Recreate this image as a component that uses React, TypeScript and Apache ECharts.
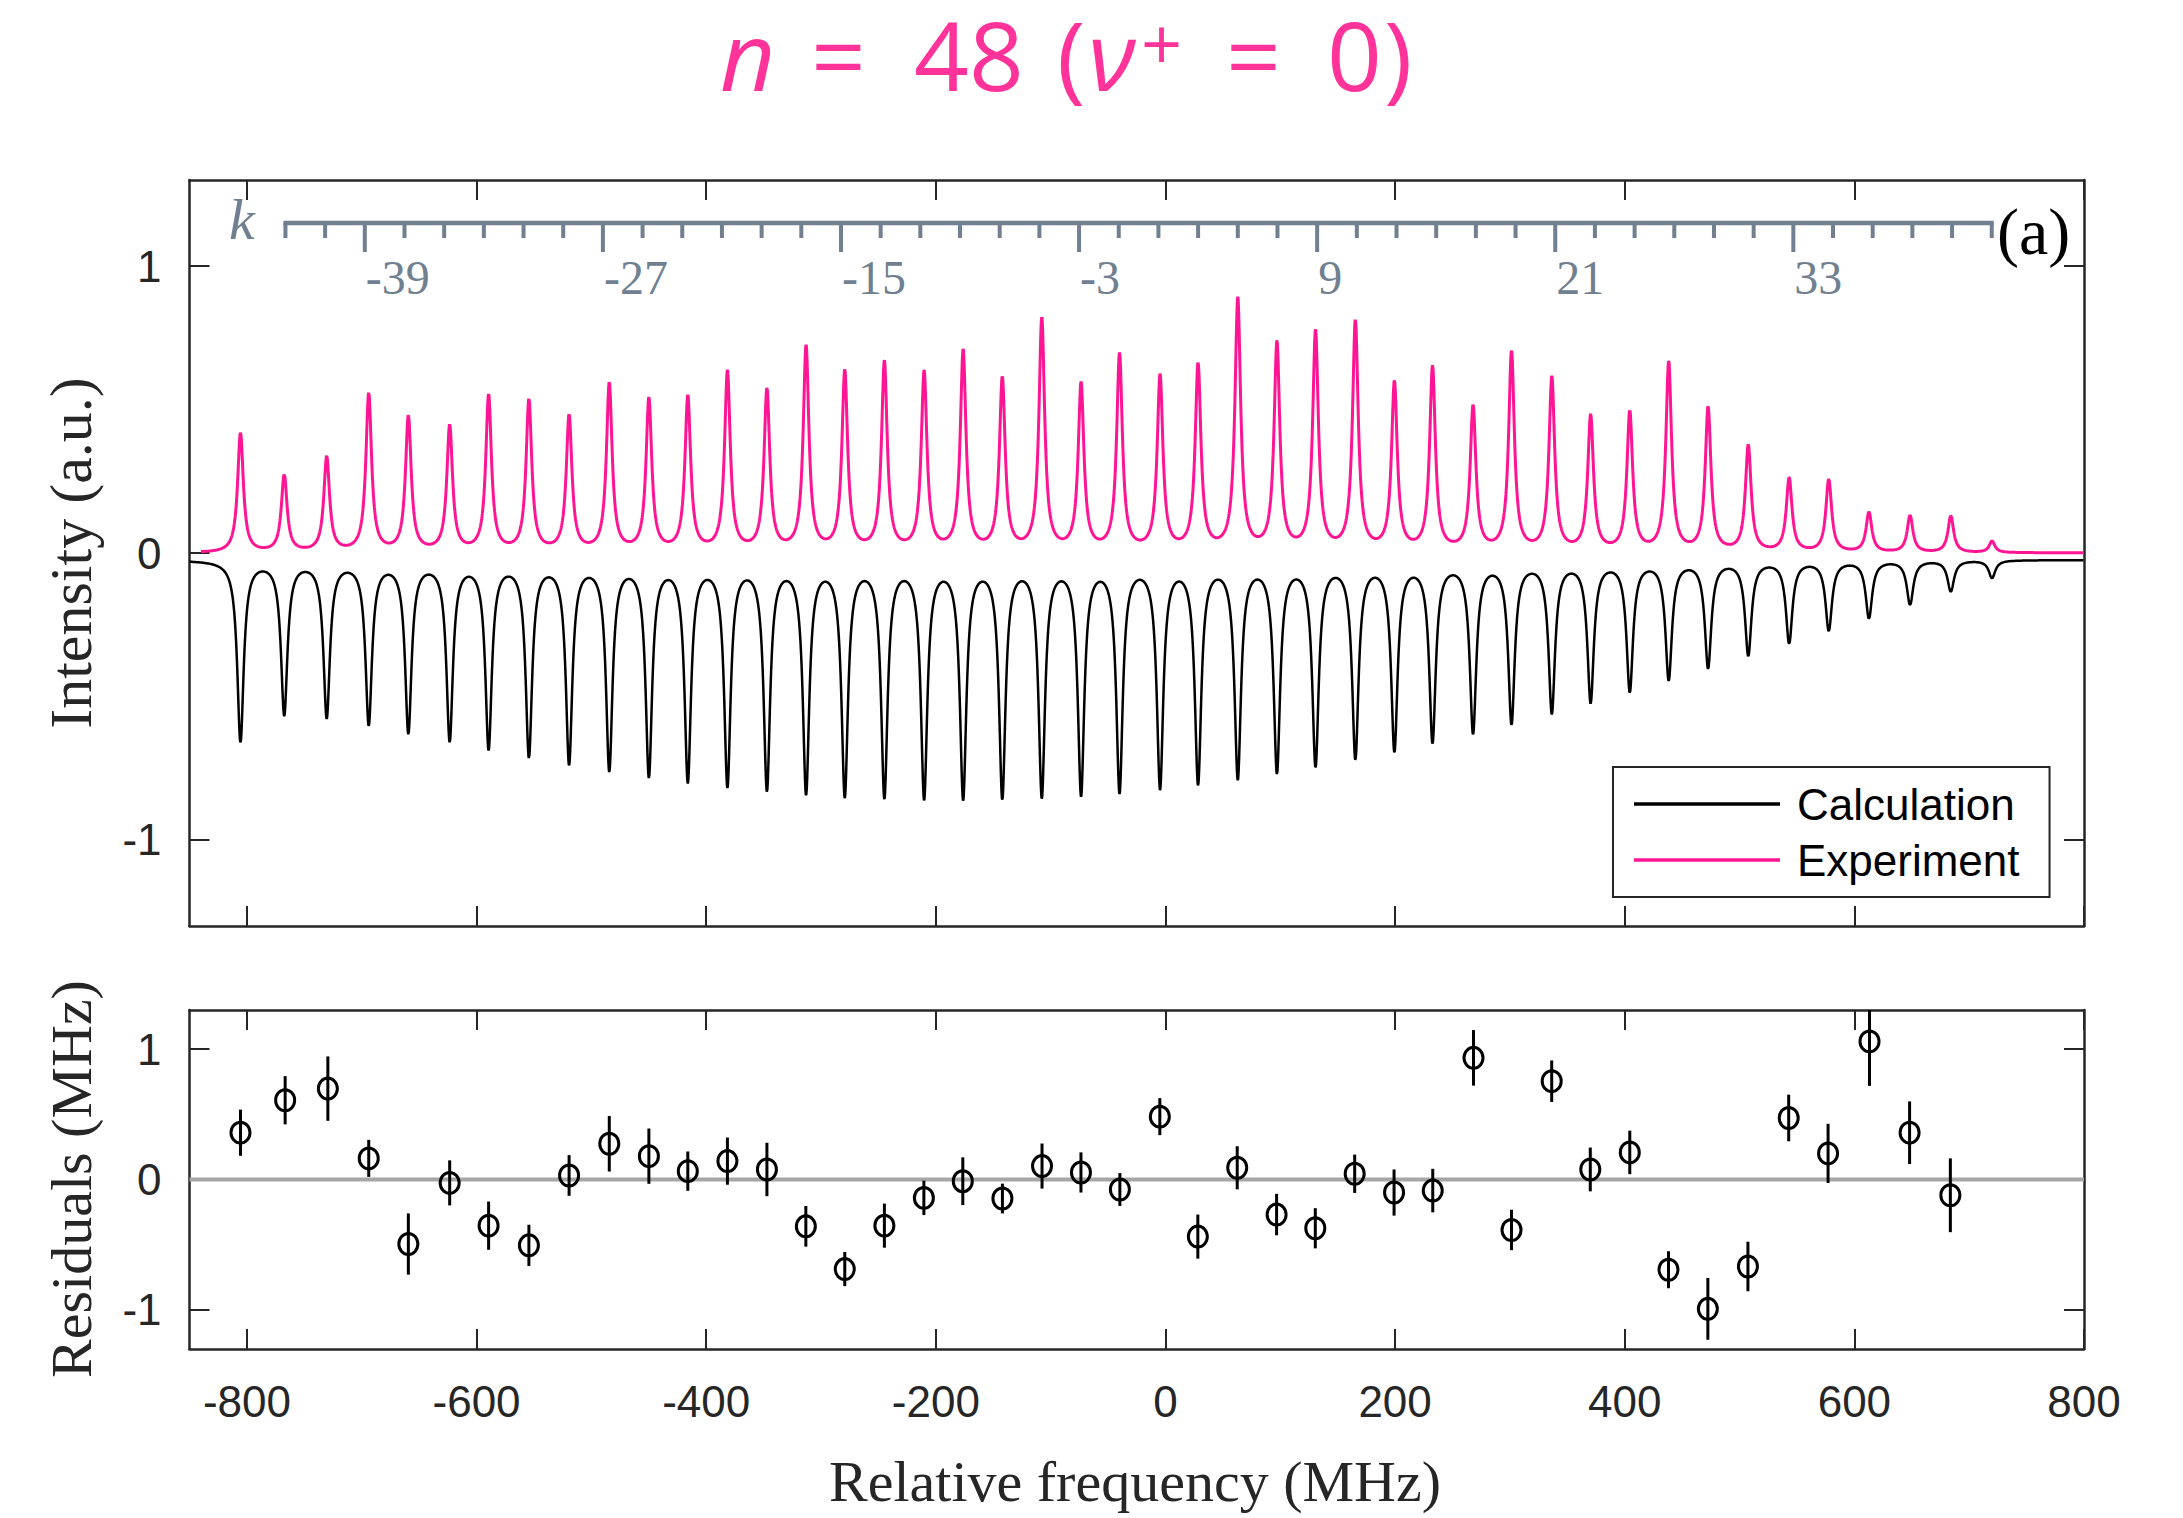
import React, { useEffect, useRef } from "react";
import * as echarts from "echarts";

// Resolved line centres (MHz), one per k component
const LINE_MHZ = [
  -805.6, -767.5, -730.5, -693.9, -659.4, -623.4, -589.5, -554.4, -519.4, -484.4,
  -449.9, -416.0, -381.5, -347.1, -313.0, -279.3, -244.8, -210.2, -176.2, -142.1,
  -107.7, -73.5, -40.0, -4.7, 28.4, 63.0, 97.1, 130.7, 165.4, 199.4,
  232.6, 267.9, 301.4, 336.5, 370.3, 404.4, 438.3, 472.6, 507.6, 543.2,
  577.7, 612.7, 648.5, 684.0, 719.9,
];

// Experimental peak heights (a.u.)
const EXPERIMENT_PEAK = [
  0.420, 0.275, 0.339, 0.559, 0.481, 0.449, 0.554, 0.538, 0.484, 0.596,
  0.544, 0.551, 0.638, 0.577, 0.726, 0.640, 0.672, 0.638, 0.711, 0.617,
  0.822, 0.597, 0.699, 0.625, 0.665, 0.893, 0.742, 0.779, 0.815, 0.603,
  0.655, 0.518, 0.707, 0.617, 0.485, 0.498, 0.669, 0.512, 0.379, 0.264,
  0.259, 0.144, 0.132, 0.130, 0.042,
];

// Calculated line depths (a.u., plotted inverted)
const CALCULATION_DIP = [
  -0.661, -0.568, -0.578, -0.603, -0.632, -0.660, -0.688, -0.715, -0.741, -0.764,
  -0.785, -0.803, -0.819, -0.833, -0.844, -0.854, -0.858, -0.862, -0.863, -0.861,
  -0.856, -0.849, -0.840, -0.826, -0.811, -0.792, -0.771, -0.749, -0.722, -0.696,
  -0.665, -0.633, -0.600, -0.562, -0.525, -0.487, -0.446, -0.404, -0.360, -0.317,
  -0.273, -0.229, -0.181, -0.135, -0.088,
];

// Fit residuals (MHz) with 1-sigma uncertainties
const RESIDUAL_MHZ = [
  -805.6, -766.7, -729.5, -693.9, -659.4, -623.4, -589.5, -554.4, -519.4, -484.4,
  -449.9, -416.0, -381.5, -347.1, -313.2, -279.3, -244.8, -210.4, -176.5, -142.0,
  -107.5, -73.6, -39.7, -4.9, 28.2, 62.5, 96.8, 130.5, 164.8, 199.1,
  232.8, 268.3, 301.4, 336.4, 370.0, 404.4, 438.1, 472.4, 507.3, 542.8,
  577.1, 613.2, 648.1, 683.6,
];
const RESIDUAL = [
  0.359, 0.608, 0.697, 0.162, -0.495, -0.026, -0.354, -0.505, 0.031, 0.274,
  0.179, 0.064, 0.141, 0.077, -0.359, -0.687, -0.354, -0.141, -0.013, -0.146,
  0.103, 0.054, -0.077, 0.482, -0.438, 0.090, -0.269, -0.374, 0.044, -0.100,
  -0.085, 0.933, -0.387, 0.754, 0.077, 0.208, -0.692, -0.992, -0.667, 0.472,
  0.200, 1.059, 0.359, -0.121,
];
const RESIDUAL_ERROR = [
  0.177, 0.185, 0.247, 0.142, 0.235, 0.173, 0.185, 0.158, 0.156, 0.213,
  0.212, 0.151, 0.181, 0.205, 0.156, 0.131, 0.169, 0.132, 0.183, 0.114,
  0.173, 0.154, 0.126, 0.142, 0.169, 0.165, 0.159, 0.154, 0.147, 0.177,
  0.167, 0.213, 0.155, 0.159, 0.168, 0.167, 0.142, 0.237, 0.190, 0.179,
  0.227, 0.341, 0.240, 0.283,
];

const FREQ_TICKS = [-800, -600, -400, -200, 0, 200, 400, 600, 800];
const INTENSITY_TICKS = [-1, 0, 1];
const RESIDUAL_TICKS = [-1, 0, 1];

// k ruler
const K_FIRST = -43;
const K_LAST = 43;
const K_STEP = 2;
const K_LABELED = [-39, -27, -15, -3, 9, 21, 33];
const K_ORIGIN_MHZ = -23.4;
const K_SPACING_MHZ = 17.28;
const kToMHz = (k: number) => K_ORIGIN_MHZ + K_SPACING_MHZ * k;

// Line-shape parameters
const EXP_HWHM = 3.0;
const CALC_HWHM = 3.4;
const EXP_BASELINE = 0;
const CALC_BASELINE = -0.024;

const FREQ_MIN = -850;
const FREQ_MAX = 800;
const EXP_START = -840;

const lorentz = (d: number, g: number) => (g * g) / (d * d + g * g);

// Amplitudes such that the summed profile reaches each target value at its centre
function solveAmplitudes(targets: number[], hwhm: number, baseline: number) {
  let amp = targets.map((t) => t - baseline);
  for (let it = 0; it < 6; it++) {
    amp = targets.map((t, i) => {
      let s = 0;
      for (let j = 0; j < LINE_MHZ.length; j++) {
        if (j !== i) s += amp[j] * lorentz(LINE_MHZ[i] - LINE_MHZ[j], hwhm);
      }
      return t - baseline - s;
    });
  }
  return amp;
}

function buildTrace(from: number, to: number, step: number, amps: number[], hwhm: number, baseline: number) {
  const pts: number[][] = [];
  const n = Math.round((to - from) / step);
  for (let s = 0; s <= n; s++) {
    const x = from + s * step;
    let y = baseline;
    for (let i = 0; i < LINE_MHZ.length; i++) y += amps[i] * lorentz(x - LINE_MHZ[i], hwhm);
    pts.push([x, y]);
  }
  return pts;
}

const EXP_AMPS = solveAmplitudes(EXPERIMENT_PEAK, EXP_HWHM, EXP_BASELINE);
const CALC_AMPS = solveAmplitudes(CALCULATION_DIP, CALC_HWHM, CALC_BASELINE);
const EXPERIMENT_TRACE = buildTrace(EXP_START, FREQ_MAX, 0.25, EXP_AMPS, EXP_HWHM, EXP_BASELINE);
const CALCULATION_TRACE = buildTrace(FREQ_MIN, FREQ_MAX, 0.25, CALC_AMPS, CALC_HWHM, CALC_BASELINE);

const K_VALUES: number[] = [];
for (let k = K_FIRST; k <= K_LAST; k += K_STEP) K_VALUES.push(k);

const AXIS_COLOR = "#262626";
const PINK = "#ff1493";
const TITLE_PINK = "#ff3399";
const SLATE = "#708090";
const SANS = "Liberation Sans, Arial, Helvetica, sans-serif";
const SERIF = "Liberation Serif, Times New Roman, serif";
const TITLE_FONT = "Open Sans, sans-serif";

function xAxisCfg(gridIndex: number, position: "top" | "bottom", labels: boolean) {
  return {
    type: "value",
    gridIndex,
    position,
    min: FREQ_MIN,
    max: FREQ_MAX,
    axisLine: { show: true, onZero: false, lineStyle: { color: AXIS_COLOR, width: 2.5 } },
    axisTick: {
      show: true,
      inside: true,
      length: 20,
      customValues: FREQ_TICKS,
      lineStyle: { color: AXIS_COLOR, width: 2 },
    },
    axisLabel: {
      show: labels,
      customValues: FREQ_TICKS,
      fontSize: 44,
      fontFamily: SANS,
      color: AXIS_COLOR,
      margin: 30,
    },
    splitLine: { show: false },
  };
}

function yAxisCfg(gridIndex: number, position: "left" | "right", labels: boolean, ticks: number[]) {
  return {
    type: "value",
    gridIndex,
    position,
    min: -1.3,
    max: 1.3,
    axisLine: { show: true, onZero: false, lineStyle: { color: AXIS_COLOR, width: 2.5 } },
    axisTick: {
      show: true,
      inside: true,
      length: 20,
      customValues: ticks,
      lineStyle: { color: AXIS_COLOR, width: 2 },
    },
    axisLabel: {
      show: labels,
      customValues: ticks,
      fontSize: 44,
      fontFamily: SANS,
      color: AXIS_COLOR,
      margin: 28,
    },
    splitLine: { show: false },
  };
}

// Title pieces: text, left x, font size, italic, vertical centre
const TITLE_PARTS: [string, number, number, boolean, number][] = [
  ["n", 720, 96, true, 53],
  ["=", 811, 96, false, 53],
  ["48", 914, 96, false, 53],
  ["(", 1057, 96, false, 53],
  ["ν", 1088, 96, true, 53],
  ["+", 1141, 72, false, 42],
  ["=", 1226, 96, false, 53],
  ["0", 1327, 96, false, 53],
  [")", 1384, 96, false, 53],
];

function textEl(text: string, x: number, y: number, size: number, family: string, fill: string, opts: any = {}) {
  return {
    type: "text",
    x,
    y,
    rotation: opts.rotation || 0,
    silent: true,
    style: {
      text,
      fill,
      fontSize: size,
      fontFamily: family,
      fontStyle: opts.italic ? "italic" : "normal",
      align: opts.align || "center",
      verticalAlign: "middle",
      textAlign: opts.align || "center",
      textVerticalAlign: "middle",
    },
  };
}

export default function App() {
  const ref = useRef<HTMLDivElement>(null);

  useEffect(() => {
    if (!ref.current) return;
    const chart = echarts.init(ref.current, undefined, { renderer: "svg" });

    const graphics: any[] = [
      ...TITLE_PARTS.map(([t, x, size, italic, y]) =>
        textEl(t, x, y, size, TITLE_FONT, TITLE_PINK, { italic, align: "left" })
      ),
      textEl("Intensity (a.u.)", 71, 553, 60, SERIF, AXIS_COLOR, { rotation: Math.PI / 2 }),
      textEl("Residuals (MHz)", 71, 1179, 58, SERIF, AXIS_COLOR, { rotation: Math.PI / 2 }),
      textEl("Relative frequency (MHz)", 1135, 1481, 58, SERIF, AXIS_COLOR),
      textEl("k", 229, 219, 58, SERIF, SLATE, { italic: true, align: "left" }),
      textEl("(a)", 1997, 231, 66, SERIF, "#000", { align: "left" }),
    ];

    chart.setOption({
      animation: false,
      backgroundColor: "#ffffff",
      grid: [
        { left: 189.5, top: 180, width: 1894.5, height: 746, show: false },
        { left: 189.5, top: 1010, width: 1894.5, height: 339, show: false },
      ],
      xAxis: [
        xAxisCfg(0, "bottom", false),
        xAxisCfg(0, "top", false),
        xAxisCfg(1, "bottom", true),
        xAxisCfg(1, "top", false),
      ],
      yAxis: [
        yAxisCfg(0, "left", true, INTENSITY_TICKS),
        yAxisCfg(0, "right", false, INTENSITY_TICKS),
        yAxisCfg(1, "left", true, RESIDUAL_TICKS),
        yAxisCfg(1, "right", false, RESIDUAL_TICKS),
      ],
      legend: {
        left: 1613,
        top: 767,
        orient: "vertical",
        data: ["Calculation", "Experiment"],
        icon: "rect",
        itemWidth: 146,
        itemHeight: 3.5,
        itemGap: 12,
        padding: [15, 30, 15, 21],
        borderColor: AXIS_COLOR,
        borderWidth: 2,
        backgroundColor: "#ffffff",
        textStyle: { fontSize: 44, fontFamily: SANS, color: "#000", padding: [0, 0, 0, 12] },
      },
      graphic: graphics,
      series: [
        {
          name: "Calculation",
          type: "line",
          xAxisIndex: 0,
          yAxisIndex: 0,
          data: CALCULATION_TRACE,
          showSymbol: false,
          color: "#000000",
          lineStyle: { color: "#000000", width: 2.5 },
          silent: true,
          z: 3,
        },
        {
          name: "Experiment",
          type: "line",
          xAxisIndex: 0,
          yAxisIndex: 0,
          data: EXPERIMENT_TRACE,
          showSymbol: false,
          color: PINK,
          lineStyle: { color: PINK, width: 3 },
          silent: true,
          z: 3,
        },
        {
          name: "kRuler",
          type: "custom",
          xAxisIndex: 0,
          yAxisIndex: 0,
          silent: true,
          clip: false,
          z: 4,
          data: K_VALUES.map((k) => [kToMHz(k), k]),
          renderItem: (params: any, api: any) => {
            const cs = params.coordSys;
            const yLine = cs.y + 43;
            const k = api.value(1);
            const x = api.coord([api.value(0), 0])[0];
            const major = K_LABELED.indexOf(k) >= 0;
            const children: any[] = [
              {
                type: "line",
                shape: { x1: x, y1: yLine, x2: x, y2: yLine + (major ? 29 : 15) },
                style: { stroke: SLATE, lineWidth: 4 },
              },
            ];
            if (major) {
              children.push({
                type: "text",
                x: x + 1,
                y: yLine + 54,
                style: {
                  text: String(k),
                  fill: SLATE,
                  fontSize: 48,
                  fontFamily: SERIF,
                  align: "left",
                  verticalAlign: "middle",
                  textAlign: "left",
                  textVerticalAlign: "middle",
                },
              });
            }
            if (params.dataIndex === 0) {
              const xEnd = api.coord([kToMHz(K_LAST), 0])[0];
              children.push({
                type: "line",
                shape: { x1: x - 2, y1: yLine, x2: xEnd + 2, y2: yLine },
                style: { stroke: SLATE, lineWidth: 4.5 },
              });
            }
            return { type: "group", children };
          },
        },
        {
          name: "zero",
          type: "line",
          xAxisIndex: 2,
          yAxisIndex: 2,
          data: [
            [FREQ_MIN, 0],
            [FREQ_MAX, 0],
          ],
          showSymbol: false,
          lineStyle: { color: "#a6a6a6", width: 4 },
          silent: true,
          z: 1,
        },
        {
          name: "Residuals",
          type: "custom",
          xAxisIndex: 2,
          yAxisIndex: 2,
          silent: true,
          clip: true,
          z: 3,
          data: RESIDUAL_MHZ.map((x, i) => [x, RESIDUAL[i], RESIDUAL_ERROR[i]]),
          renderItem: (params: any, api: any) => {
            const x = api.value(0);
            const y = api.value(1);
            const e = api.value(2);
            const p = api.coord([x, y]);
            const lo = api.coord([x, y - e]);
            const hi = api.coord([x, y + e]);
            return {
              type: "group",
              children: [
                {
                  type: "line",
                  shape: { x1: p[0], y1: lo[1], x2: p[0], y2: hi[1] },
                  style: { stroke: "#000", lineWidth: 3 },
                },
                {
                  type: "ellipse",
                  shape: { cx: p[0], cy: p[1], rx: 9.5, ry: 10.5 },
                  style: { fill: "none", stroke: "#000", lineWidth: 3 },
                },
              ],
            };
          },
        },
      ],
    });

    return () => chart.dispose();
  }, []);

  return (
    <div
      ref={ref}
      style={{ position: "fixed", left: 0, top: 0, width: 2183, height: 1518, background: "#fff" }}
    />
  );
}
